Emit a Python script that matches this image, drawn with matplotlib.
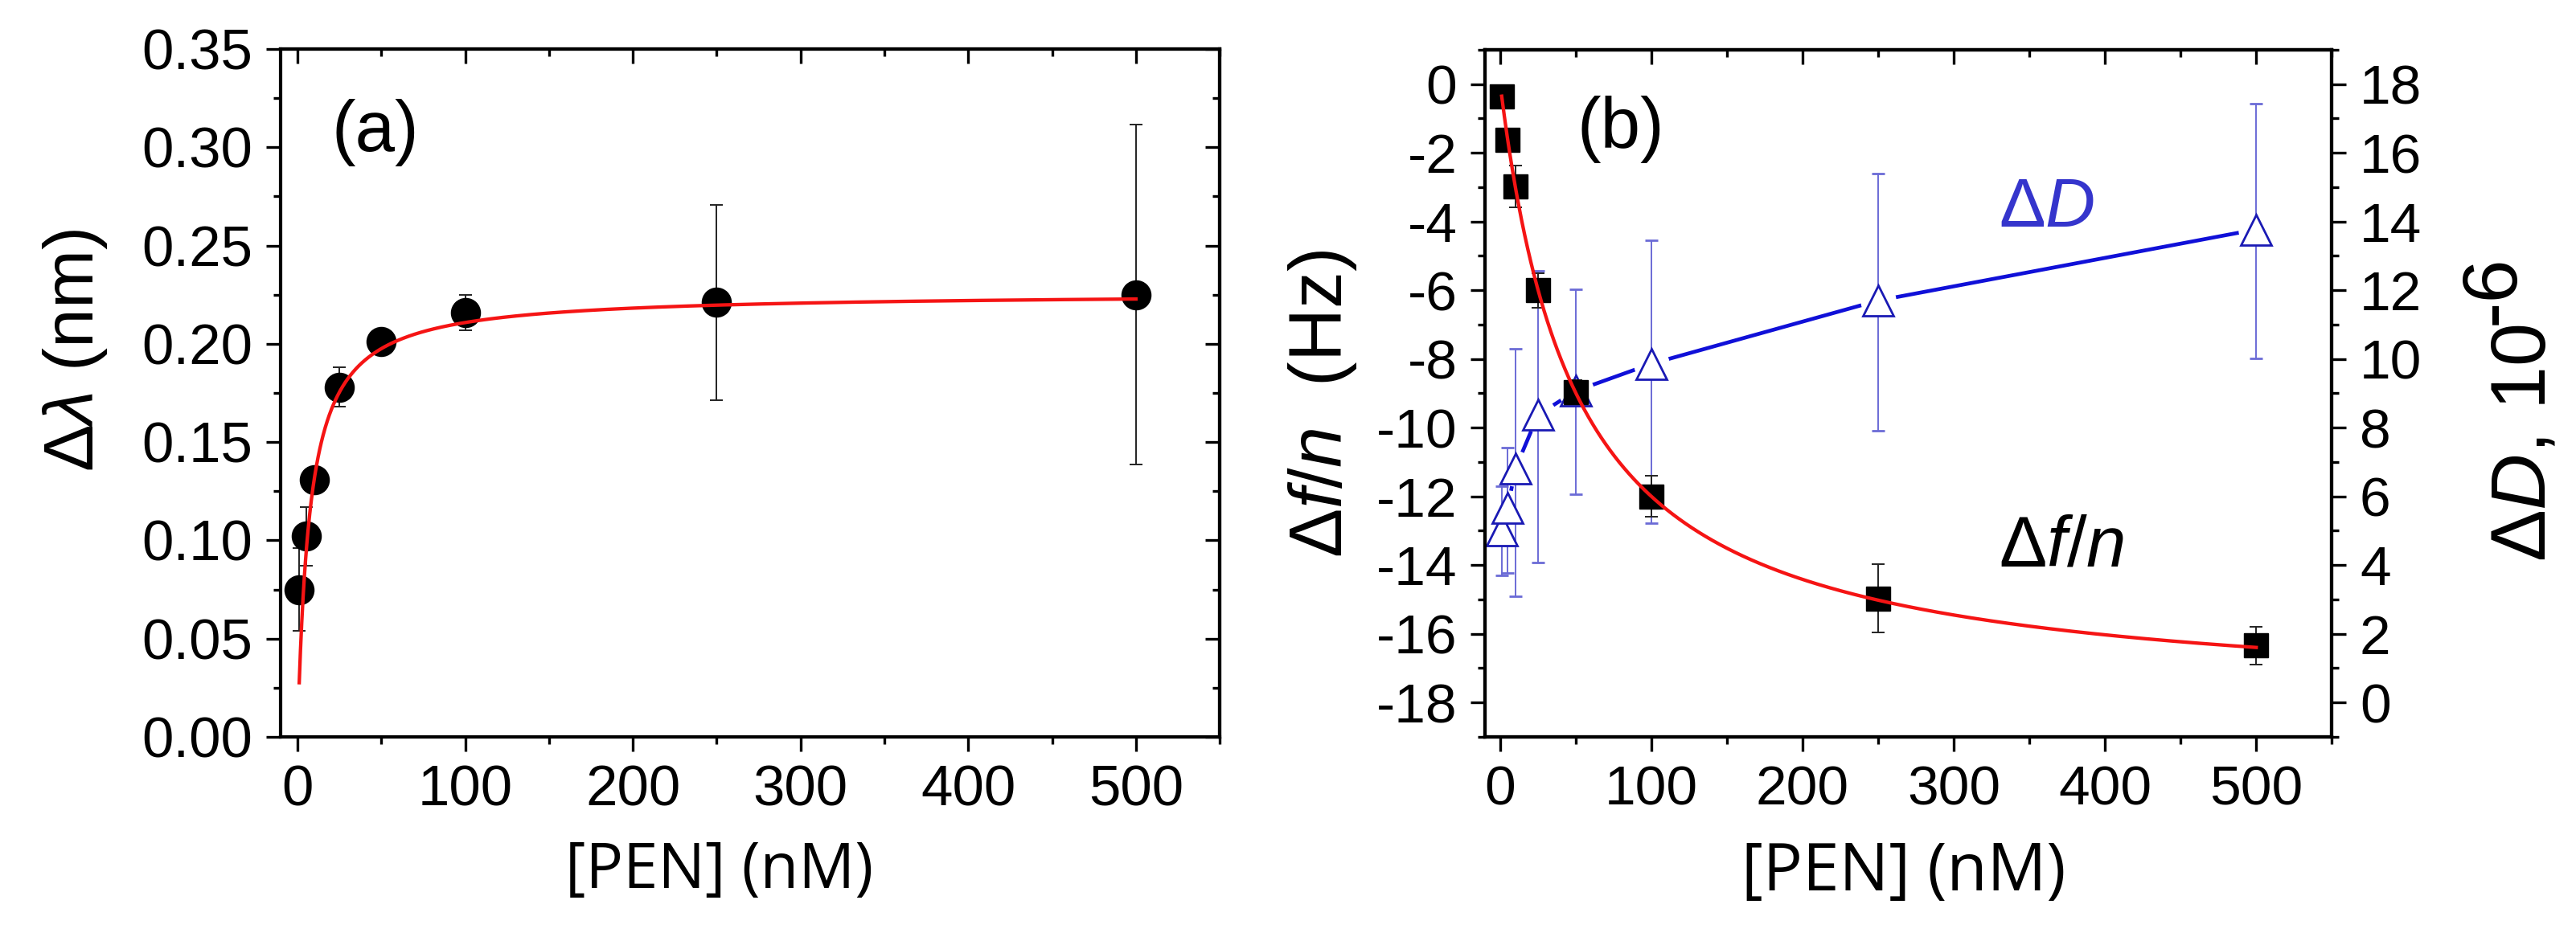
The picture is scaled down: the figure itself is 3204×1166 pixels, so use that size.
import numpy as np
import matplotlib.pyplot as plt
from matplotlib.ticker import MultipleLocator, FormatStrFormatter

plt.rcParams['font.family'] = ['Liberation Sans', 'DejaVu Sans']
plt.rcParams['axes.unicode_minus'] = False
plt.rcParams['mathtext.fontset'] = 'custom'
plt.rcParams['mathtext.rm'] = 'Liberation Sans'
plt.rcParams['mathtext.it'] = 'Liberation Sans:italic'

# PEN concentration (nM), same for both panels
pen = [1, 5, 10, 25, 50, 100, 250, 500]

# (a) wavelength shift (nm)
dlam = [0.075, 0.102, 0.131, 0.178, 0.201, 0.216, 0.221, 0.225]
dlam_err = [0.021, 0.015, 0.005, 0.010, 0.004, 0.009, 0.0495, 0.0865]
# Langmuir fit y = A*x/(K+x)
lam_A, lam_K = 0.226, 7.2

# (b) frequency shift (Hz)
df = [-0.35, -1.63, -2.98, -6.0, -8.97, -12.0, -14.97, -16.34]
df_err = [0.2, 0.2, 0.6, 0.5, 0.35, 0.6, 1.0, 0.55]
f_A, f_K = -18.05, 50.4

# (b) dissipation shift (1e-6)
dD = [5.0, 5.66, 6.8, 8.37, 9.07, 9.86, 11.7, 13.77]
dD_err_low = [1.3, 1.9, 3.7, 4.3, 3.0, 4.65, 3.8, 3.75]
dD_err_high = [1.3, 1.75, 3.5, 4.2, 2.95, 3.6, 3.7, 3.65]

RED = '#f51414'
BLUE_LINE = '#1010d8'
BLUE_MARK = '#1a1ab4'
BLUE_ERR = '#6b6bd6'
BLUE_TXT = '#3535cc'

xf = np.linspace(1, 500, 2000)

fig = plt.figure(figsize=(32.04, 11.66), dpi=100)
axa = fig.add_axes([0.109, 0.2136, 0.3645, 0.7341])
axb = fig.add_axes([0.5765, 0.2136, 0.3287, 0.7333])


def ticks(ax, axis, direction, size):
    ax.tick_params(axis=axis, which='both', direction=direction,
                   labelsize=size, pad=12, width=2.4)
    ax.tick_params(axis=axis, which='major', length=13)
    ax.tick_params(axis=axis, which='minor', length=6.5)
    for s in ax.spines.values():
        s.set_linewidth(3)


def mirror(ax, where):
    if where == 'top':
        sec = ax.secondary_xaxis('top')
        sec.xaxis.set_major_locator(MultipleLocator(100))
        sec.xaxis.set_minor_locator(MultipleLocator(50))
        sec.tick_params(axis='x', labeltop=False)
        ticks(sec, 'x', 'in', 1)
    else:
        sec = ax.secondary_yaxis('right')
        sec.yaxis.set_major_locator(MultipleLocator(0.05))
        sec.yaxis.set_minor_locator(MultipleLocator(0.025))
        sec.tick_params(axis='y', labelright=False)
        ticks(sec, 'y', 'in', 1)


# ---------- panel (a) ----------
axa.errorbar(pen, dlam, yerr=dlam_err, fmt='o', color='black', ms=26,
             ecolor='#222222', elinewidth=1.4, capsize=6, capthick=1.4, zorder=3)
axa.plot(xf, lam_A * xf / (lam_K + xf), color=RED, lw=3.1, zorder=4)

axa.set_xlim(-10, 550)
axa.set_ylim(0, 0.35)
axa.xaxis.set_major_locator(MultipleLocator(100))
axa.xaxis.set_minor_locator(MultipleLocator(50))
axa.yaxis.set_major_locator(MultipleLocator(0.05))
axa.yaxis.set_minor_locator(MultipleLocator(0.025))
axa.yaxis.set_major_formatter(FormatStrFormatter('%.2f'))
axa.tick_params(top=False, right=False)
ticks(axa, 'both', 'out', 51)
mirror(axa, 'top')
mirror(axa, 'right')

axa.set_xlabel('[PEN] (nM)', fontfamily='Open Sans', fontsize=56)
axa.xaxis.set_label_coords(0.467, -0.150)
axa.set_ylabel(r'$\mathit{Δλ}$ (nm)', fontsize=63)
axa.yaxis.set_label_coords(-0.183, 0.562)
axa.text(0.101, 0.878, '(a)', transform=axa.transAxes, fontsize=64,
         ha='center', va='center')

# ---------- panel (b) ----------
ax2 = axb.twinx()
axb.set_zorder(ax2.get_zorder() + 1)
axb.patch.set_visible(False)

ax2.plot(pen, dD, color=BLUE_LINE, lw=3.4, zorder=1)
ax2.plot(pen, dD, 'o', ms=32, mfc='white', mec='none', zorder=2)
ax2.errorbar(pen, dD, yerr=[dD_err_low, dD_err_high], fmt='^', ms=27,
             mfc='white', mec=BLUE_MARK, mew=2.0, ecolor=BLUE_ERR,
             elinewidth=1.4, capsize=6, capthick=1.4, zorder=3)

axb.errorbar(pen, df, yerr=df_err, fmt='s', color='black', ms=21,
             ecolor='#222222', elinewidth=1.4, capsize=6, capthick=1.4, zorder=3)
axb.plot(xf, f_A * xf / (f_K + xf), color=RED, lw=3.1, zorder=4)

axb.set_xlim(-10, 550)
axb.set_ylim(-19, 1)
ax2.set_ylim(-1, 19)
axb.xaxis.set_major_locator(MultipleLocator(100))
axb.xaxis.set_minor_locator(MultipleLocator(50))
axb.yaxis.set_major_locator(MultipleLocator(2))
axb.yaxis.set_minor_locator(MultipleLocator(1))
ax2.yaxis.set_major_locator(MultipleLocator(2))
ax2.yaxis.set_minor_locator(MultipleLocator(1))
axb.tick_params(top=False, right=False)
ticks(axb, 'both', 'out', 50)
ticks(ax2, 'y', 'out', 50)
mirror(axb, 'top')

axb.set_xlabel('[PEN] (nM)', fontfamily='Open Sans', fontsize=59)
axb.xaxis.set_label_coords(0.494, -0.150)
axb.set_ylabel(r'$\mathit{Δf/n}$  (Hz)', fontsize=66)
axb.yaxis.set_label_coords(-0.149, 0.485)

# right label: "ΔD, 10" with a full-size raised "-6"
rlab = ax2.text(1.2517, 0.2547, r'$\mathit{ΔD}$, 10', transform=ax2.transAxes,
                rotation=90, rotation_mode='anchor', ha='left', va='baseline',
                fontsize=70)
fig.canvas.draw()
bb = rlab.get_window_extent()
fig.text(3127 / 3204, bb.y1 / fig.bbox.height, '-6', rotation=90,
         rotation_mode='anchor', ha='left', va='baseline', fontsize=70)

axb.text(0.16, 0.884, '(b)', transform=axb.transAxes, fontsize=64,
         ha='center', va='center')
axb.text(0.663, 0.768, r'$\mathit{ΔD}$', transform=axb.transAxes,
         color=BLUE_TXT, fontsize=62, ha='center', va='center')
axb.text(0.681, 0.275, r'$\mathit{Δf/n}$', transform=axb.transAxes,
         color='black', fontsize=64, ha='center', va='center')

fig.savefig('out.png', dpi=100)
